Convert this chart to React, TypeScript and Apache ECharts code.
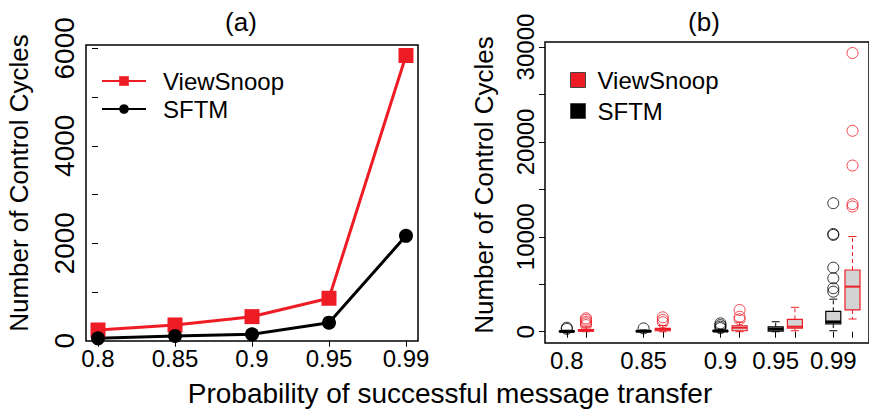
import React, { useEffect, useRef } from "react";
import * as echarts from "echarts";

// Delivery probabilities (x categories)
const probLabels = ["0.8", "0.85", "0.9", "0.95", "0.99"];

// (a) average number of control cycles
const viewSnoopMean = [220, 323, 494, 871, 5852];
const sftmMean = [49, 97, 131, 370, 2152];

// (b) box statistics per probability: [min, q1, median, q3, max]
const sftmBox = [
  [0, 10, 30, 60, 150],
  [0, 20, 50, 90, 180],
  [0, 30, 70, 130, 250],
  [0, 60, 290, 520, 1050],
  [100, 810, 1030, 2150, 3430],
];
const viewSnoopBox = [
  [0, 50, 120, 230, 500],
  [0, 100, 250, 360, 650],
  [0, 100, 420, 630, 1000],
  [100, 370, 530, 1300, 2570],
  [1340, 2290, 4750, 6500, 10030],
];
const sftmOutliers = [
  [300, 420],
  [350],
  [380, 530, 700, 880],
  [],
  [4220, 4580, 5630, 6750, 10200, 10300, 13540],
];
const viewSnoopOutliers = [
  [700, 880, 1050, 1250, 1410],
  [1000, 1230, 1520],
  [1300, 1580, 2290],
  [],
  [13190, 13440, 17510, 21170, 29370],
];

// (a) y ticks and labelled ticks
const meanTicks = [0, 1000, 2000, 3000, 4000, 5000, 6000];
const meanTickLabels = [0, 2000, 4000, 6000];
// (b) y ticks and labelled ticks
const boxTicks = [0, 5000, 10000, 15000, 20000, 25000, 30000];
const boxTickLabels = [0, 10000, 20000, 30000];

// boxplot-style group positions along the x axis of (b)
const groupAt = [1, 2, 3, 3.72, 4.47];
const pairOffset = 0.25;

const RED = "#ee1c25";
const BLACK = "#000000";
const FONT = "'Liberation Sans', Arial, Helvetica, sans-serif";

const seriesColor: Record<string, string> = { ViewSnoop: RED, SFTM: BLACK };

export default function App() {
  const ref = useRef<HTMLDivElement>(null);

  useEffect(() => {
    document.body.style.margin = "0";
    if (!ref.current) return;
    const chart = echarts.init(ref.current, null, { renderer: "svg" });

    const idx = probLabels.map((_, i) => i);

    const boxData = (stats: number[][], shift: number) =>
      stats.map((s, i) => [groupAt[i] + shift, ...s]);

    const outlierData = (out: number[][], shift: number) =>
      out.flatMap((vals, i) => vals.map((v) => [groupAt[i] + shift, v]));

    // one box with dashed whiskers, end caps and a median bar
    const renderBox = (params: any, api: any) => {
      const color = seriesColor[params.seriesName] || BLACK;
      const x = api.value(0);
      const pMin = api.coord([x, api.value(1)]);
      const pQ1 = api.coord([x, api.value(2)]);
      const pMed = api.coord([x, api.value(3)]);
      const pQ3 = api.coord([x, api.value(4)]);
      const pMax = api.coord([x, api.value(5)]);
      const cx = pMed[0];
      const half = 7.5;
      const cap = 4;
      const whisker = { stroke: color, lineWidth: 1, lineDash: [4, 3] };
      const solid = { stroke: color, lineWidth: 1 };
      return {
        type: "group",
        children: [
          { type: "line", shape: { x1: cx, y1: pQ3[1], x2: cx, y2: pMax[1] }, style: whisker },
          { type: "line", shape: { x1: cx, y1: pQ1[1], x2: cx, y2: pMin[1] }, style: whisker },
          { type: "line", shape: { x1: cx - cap, y1: pMax[1], x2: cx + cap, y2: pMax[1] }, style: solid },
          { type: "line", shape: { x1: cx - cap, y1: pMin[1], x2: cx + cap, y2: pMin[1] }, style: solid },
          {
            type: "rect",
            shape: { x: cx - half, y: pQ3[1], width: half * 2, height: Math.max(pQ1[1] - pQ3[1], 0.5) },
            style: { fill: "#d3d3d3", stroke: color, lineWidth: 1.2 },
          },
          {
            type: "line",
            shape: { x1: cx - half, y1: pMed[1], x2: cx + half, y2: pMed[1] },
            style: { stroke: color, lineWidth: color === RED ? 2 : 3 },
          },
        ],
      };
    };

    const allBoxPositions = groupAt.flatMap((g) => [g, g + pairOffset]);
    const findGroup = (v: number) => groupAt.findIndex((g) => Math.abs(g - v) < 1e-6);

    const tickStyle = { show: true, length: 6, lineStyle: { color: "#000", width: 1 } };

    chart.setOption({
      animation: false,
      textStyle: { fontFamily: FONT },
      grid: [
        { left: 86, top: 45, width: 332, height: 296, show: true, borderColor: "#000", borderWidth: 1.5, backgroundColor: "transparent" },
        { left: 545, top: 42, width: 330, height: 301, show: true, borderColor: "#000", borderWidth: 1.5, backgroundColor: "transparent" },
      ],
      xAxis: [
        {
          type: "value",
          gridIndex: 0,
          min: -0.156,
          max: 4.156,
          splitLine: { show: false },
          axisLine: { show: false },
          axisTick: { ...tickStyle, customValues: idx },
          axisLabel: {
            customValues: idx,
            formatter: (v: number) => probLabels[Math.round(v)] ?? "",
            fontSize: 24,
            color: "#000",
            margin: 5,
            fontFamily: FONT,
          },
        },
        {
          type: "value",
          gridIndex: 1,
          min: 0.716,
          max: 4.935,
          splitLine: { show: false },
          axisLine: { show: false },
          axisTick: { ...tickStyle, customValues: allBoxPositions },
          axisLabel: {
            customValues: groupAt,
            formatter: (v: number) => {
              const k = findGroup(v);
              return k >= 0 ? probLabels[k] : "";
            },
            fontSize: 24,
            color: "#000",
            margin: 5,
            fontFamily: FONT,
          },
        },
      ],
      yAxis: [
        {
          type: "value",
          gridIndex: 0,
          min: -6,
          max: 6068,
          splitLine: { show: false },
          axisLine: { show: false },
          axisTick: { ...tickStyle, customValues: meanTicks },
          axisLabel: {
            customValues: meanTickLabels,
            formatter: (v: number) => String(v),
            rotate: 90,
            fontSize: 28,
            color: "#000",
            margin: 8,
            fontFamily: FONT,
          },
        },
        {
          type: "value",
          gridIndex: 1,
          min: -1190,
          max: 30527,
          splitLine: { show: false },
          axisLine: { show: false },
          axisTick: { ...tickStyle, customValues: boxTicks },
          axisLabel: {
            customValues: boxTickLabels,
            formatter: (v: number) => String(v),
            rotate: 90,
            fontSize: 24,
            color: "#000",
            margin: 8,
            fontFamily: FONT,
          },
        },
      ],
      legend: [
        {
          orient: "vertical",
          left: 96,
          top: 64,
          itemWidth: 44,
          itemHeight: 12,
          itemGap: 4,
          data: ["ViewSnoop", "SFTM"],
          textStyle: { fontSize: 24, color: "#000", fontFamily: FONT, padding: [0, 0, 0, 12] },
        },
        {
          orient: "vertical",
          left: 565,
          top: 63,
          itemWidth: 15,
          itemHeight: 15,
          itemGap: 7,
          data: [
            { name: "ViewSnoop", icon: "rect", itemStyle: { color: RED, borderColor: "#444", borderWidth: 1 } },
            { name: "SFTM", icon: "rect", itemStyle: { color: BLACK, borderColor: "#444", borderWidth: 1 } },
          ],
          textStyle: { fontSize: 24, color: "#000", fontFamily: FONT, padding: [0, 0, 0, 7] },
        },
      ],
      graphic: [
        { type: "text", x: 241, y: 22, style: { text: "(a)", font: `26px ${FONT}`, fill: "#000", textAlign: "center", textVerticalAlign: "middle" } },
        { type: "text", x: 704, y: 22, style: { text: "(b)", font: `26px ${FONT}`, fill: "#000", textAlign: "center", textVerticalAlign: "middle" } },
        {
          type: "text",
          x: 19,
          y: 183,
          rotation: Math.PI / 2,
          style: { text: "Number of Control Cycles", font: `26px ${FONT}`, fill: "#000", textAlign: "center", textVerticalAlign: "middle" },
        },
        {
          type: "text",
          x: 484,
          y: 185,
          rotation: Math.PI / 2,
          style: { text: "Number of Control Cycles", font: `26px ${FONT}`, fill: "#000", textAlign: "center", textVerticalAlign: "middle" },
        },
        {
          type: "text",
          x: 450,
          y: 393,
          style: { text: "Probability of successful message transfer", font: `28px ${FONT}`, fill: "#000", textAlign: "center", textVerticalAlign: "middle" },
        },
      ],
      series: [
        {
          name: "ViewSnoop",
          type: "line",
          xAxisIndex: 0,
          yAxisIndex: 0,
          data: viewSnoopMean.map((v, i) => [i, v]),
          symbol: "rect",
          symbolSize: 15,
          lineStyle: { color: RED, width: 3 },
          itemStyle: { color: RED },
        },
        {
          name: "SFTM",
          type: "line",
          xAxisIndex: 0,
          yAxisIndex: 0,
          data: sftmMean.map((v, i) => [i, v]),
          symbol: "circle",
          symbolSize: 14,
          lineStyle: { color: BLACK, width: 3 },
          itemStyle: { color: BLACK },
        },
        {
          name: "SFTM",
          type: "custom",
          xAxisIndex: 1,
          yAxisIndex: 1,
          renderItem: renderBox,
          encode: { x: 0, y: [1, 2, 3, 4, 5] },
          data: boxData(sftmBox, 0),
          itemStyle: { color: BLACK },
          z: 3,
        },
        {
          name: "ViewSnoop",
          type: "custom",
          xAxisIndex: 1,
          yAxisIndex: 1,
          renderItem: renderBox,
          encode: { x: 0, y: [1, 2, 3, 4, 5] },
          data: boxData(viewSnoopBox, pairOffset),
          itemStyle: { color: RED },
          z: 3,
        },
        {
          name: "SFTM",
          type: "scatter",
          xAxisIndex: 1,
          yAxisIndex: 1,
          data: outlierData(sftmOutliers, 0),
          symbol: "circle",
          symbolSize: 11,
          itemStyle: { color: "rgba(255,255,255,0)", borderColor: BLACK, borderWidth: 1 },
          z: 4,
        },
        {
          name: "ViewSnoop",
          type: "scatter",
          xAxisIndex: 1,
          yAxisIndex: 1,
          data: outlierData(viewSnoopOutliers, pairOffset),
          symbol: "circle",
          symbolSize: 11,
          itemStyle: { color: "rgba(255,255,255,0)", borderColor: RED, borderWidth: 1 },
          z: 4,
        },
      ],
    });

    return () => chart.dispose();
  }, []);

  return <div ref={ref} style={{ width: 869, height: 412 }} />;
}
